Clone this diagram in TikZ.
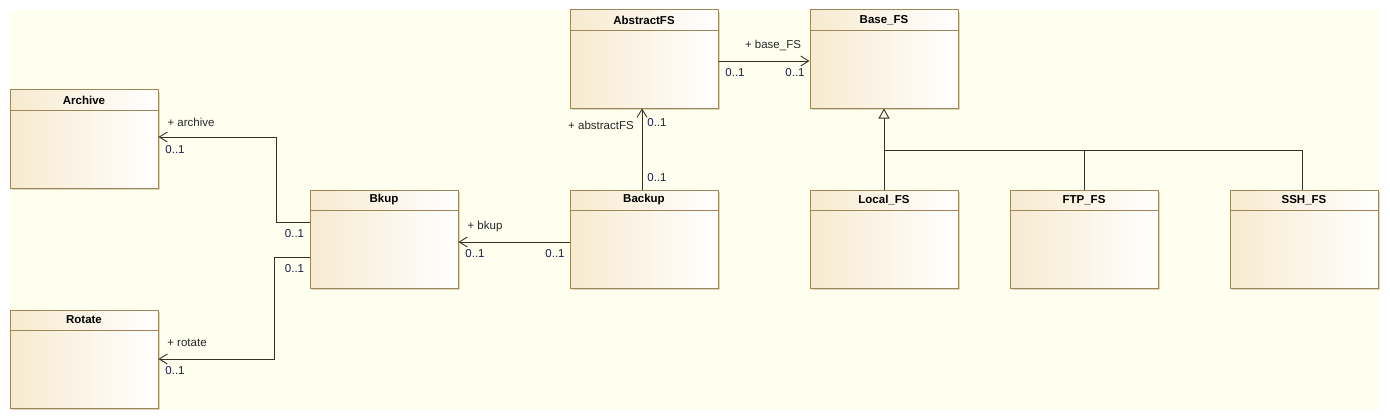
\documentclass[tikz,border=0pt]{standalone}
\usepackage{fontspec}
\setmainfont{Liberation Sans}
\usetikzlibrary{arrows.meta,shadows}
\definecolor{bgc}{HTML}{FFFFF0}
\definecolor{boxl}{HTML}{F7EAD0}
\definecolor{boxd}{HTML}{9E8658}
\definecolor{linec}{HTML}{3A3022}
\definecolor{shad}{HTML}{DCD6C0}
\definecolor{multc}{HTML}{1C1C44}
\tikzset{
 cls/.style={draw=boxd, line width=1pt, left color=boxl, right color=white,
   minimum width=148pt, minimum height=98pt, inner sep=0pt,
   drop shadow={shadow xshift=2pt,shadow yshift=-2pt,fill=shad,opacity=1}},
 hdr/.style={font=\fontsize{11.5}{13}\selectfont\bfseries, inner sep=0pt},
 lbl/.style={font=\fontsize{11.5}{13}\selectfont, inner sep=0pt, text=black!85},
 mult/.style={lbl, text=multc},
 assoc/.style={draw=linec, line width=0.9pt, -{Straight Barb[length=8pt,width=10pt]}},
 gen/.style={draw=linec, line width=0.9pt},
}
\newcommand\umlclass[4]{%
 \node[cls] (#1) at (#2,#3) {};
 \draw[boxd, line width=1pt] ([yshift=-21pt]#1.north west) -- ([yshift=-21pt]#1.north east);
 \node[hdr] (#1-t) at ([yshift=-10.5pt]#1.north) {#4};
}
\begin{document}
\begin{tikzpicture}[x=1pt,y=-1pt]
\useasboundingbox (0,0) rectangle (1390,420);
\fill[white] (0,0) rectangle (1390,420);
\fill[bgc] (10,10) rectangle (1380,410);

\umlclass{archive}{84}{139}{Archive}
\umlclass{rotate}{84}{359}{Rotate}
\umlclass{bkup}{384}{239}{Bkup}
\umlclass{backup}{644}{239}{Backup}
\umlclass{abstractfs}{644}{59}{AbstractFS}
\umlclass{basefs}{884}{59}{Base\_FS}
\umlclass{localfs}{884}{239}{Local\_FS}
\umlclass{ftpfs}{1084}{239}{FTP\_FS}
\umlclass{sshfs}{1304}{239}{SSH\_FS}

% associations
\draw[assoc] ([yshift=-2pt]abstractfs.east) -- ([yshift=-2pt]basefs.west);
\draw[assoc] ([xshift=-2pt]backup.north) -- ([xshift=-2pt]abstractfs.south);
\draw[assoc] ([yshift=-3pt]backup.west) -- ([yshift=-3pt]bkup.east);
\draw[assoc] ([yshift=17pt]bkup.west) -- ++(-33,0) |- ([yshift=2pt]archive.east);
\draw[assoc] ([yshift=-18pt]bkup.west) -- ++(-35,0) |- (rotate.east);

% generalization
\coordinate (bus) at (884,150);
\draw[gen, -{Triangle[open,length=10pt,width=11pt,fill=bgc]}] (localfs.north) -- (basefs.south);
\draw[gen] (ftpfs.north) |- (bus);
\draw[gen] ([xshift=-2pt]sshfs.north) |- (bus);

% labels
\node[lbl] (l1) at (773,45) {+ base\_FS};
\node[mult] (m1) at (735,73) {0..1};
\node[mult] (m2) at (795,73) {0..1};
\node[lbl] (l2) at (601,125) {+ abstractFS};
\node[mult] (m3) at (657,123) {0..1};
\node[mult] (m4) at (657,178) {0..1};
\node[lbl] (l3) at (485,227) {+ bkup};
\node[mult] (m5) at (475,254) {0..1};
\node[mult] (m6) at (555,254) {0..1};
\node[lbl] (l4) at (191,122) {+ archive};
\node[mult] (m7) at (175,150) {0..1};
\node[mult] (m8) at (294.5,234) {0..1};
\node[mult] (m9) at (294.5,269) {0..1};
\node[lbl] (l5) at (187,343) {+ rotate};
\node[mult] (m10) at (175,371) {0..1};
\end{tikzpicture}
\end{document}
